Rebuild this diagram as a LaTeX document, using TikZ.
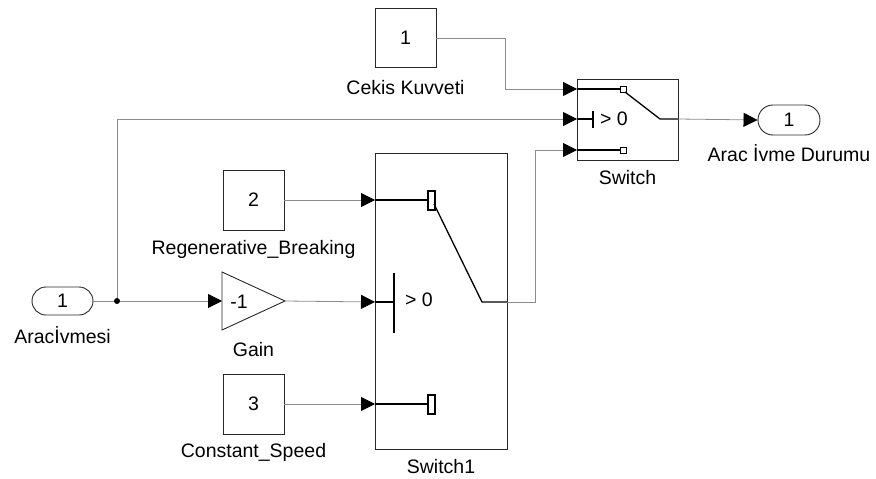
\documentclass[tikz,border=0pt]{standalone}
\usepackage{fontspec}
\setmainfont{Liberation Sans}
\usetikzlibrary{arrows.meta}
\definecolor{wire}{RGB}{140,140,140}
\definecolor{edge}{RGB}{40,40,40}
\tikzset{
  blk/.style={draw=edge, line width=0.9pt, fill=white, inner sep=0pt},
  conn/.style={draw=wire, line width=0.8pt},
  arr/.style={conn, -{Triangle[length=14pt,width=14pt,color=black]}},
  inner/.style={draw=black, line width=1.3pt},
  lbl/.style={inner sep=0pt, font=\fontsize{19.5}{23}\selectfont},
  txt/.style={inner sep=0pt, font=\fontsize{19.5}{23}\selectfont},
}
\begin{document}
\begin{tikzpicture}[x=1pt,y=-1pt]
\useasboundingbox (0,0) rectangle (876,479);
% constant blocks
\node[blk, minimum width=61pt, minimum height=59pt, txt] (c1) at (405.5,38) {1};
\node[lbl] (c1l) at (405.5,88) {Cekis Kuvveti};
\node[blk, minimum width=61pt, minimum height=60pt, txt] (c2) at (253.5,200) {2};
\node[lbl] (c2l) at (253.5,249) {Regenerative\_Breaking};
\node[blk, minimum width=61pt, minimum height=60pt, txt] (c3) at (253.5,404) {3};
\node[lbl] (c3l) at (253.5,452) {Constant\_Speed};
% inport
\node[blk, rounded corners=14pt, minimum width=61pt, minimum height=28pt, txt] (in1) at (62.5,301) {1};
\node[lbl] (in1l) at (62.5,335) {Aracİvmesi};
\coordinate (jn) at (117,301);
% gain
\coordinate (gin) at (222,301);
\coordinate (gout) at (285,301);
\draw[blk] (222,272) -- (285,301) -- (222,330) -- cycle;
\node[txt] (gtxt) at (239,302) {-1};
\node[lbl] (gl) at (253.5,350) {Gain};
% switch1
\node[blk, minimum width=132pt, minimum height=296pt] (sw1) at (441,301) {};
\node[lbl] (sw1l) at (441,467) {Switch1};
\coordinate (s1a) at (375,200);
\coordinate (s1b) at (375,302);
\coordinate (s1c) at (375,404);
\coordinate (s1o) at (507,302);
\draw[inner] (s1a) -- (428,200);
\draw[black, line width=1.1pt, fill=white] (428,191) rectangle (435,210);
\draw[inner] (434,204) -- (482,302) -- (s1o);
\draw[inner] (s1b) -- (394,302);
\draw[inner] (394,273) -- (394,333);
\node[txt, anchor=west] (s1t) at (405,300) {> 0};
\draw[inner] (s1c) -- (428,404);
\draw[black, line width=1.1pt, fill=white] (428,395) rectangle (435,414);
% switch
\node[blk, minimum width=101pt, minimum height=81pt] (sw) at (627.5,119.5) {};
\node[lbl] (swl) at (627.5,178) {Switch};
\coordinate (sa) at (577,89);
\coordinate (sb) at (577,119);
\coordinate (sc) at (577,150);
\coordinate (so) at (678,119);
\draw[inner] (sa) -- (620,89);
\draw[black, line width=1pt, fill=white] (620,86) rectangle (626,92);
\draw[inner] (625,92) -- (660,119) -- (so);
\draw[inner] (sb) -- (593,119);
\draw[inner] (593,111) -- (593,128);
\node[txt, anchor=west] (st) at (600,119) {> 0};
\draw[inner] (sc) -- (620,150);
\draw[black, line width=1pt, fill=white] (620,147) rectangle (626,153);
% outport
\node[blk, rounded corners=15pt, minimum width=62pt, minimum height=30pt, txt] (out1) at (789,120) {1};
\node[lbl] (out1l) at (789,153) {Arac İvme Durumu};
% connections
\draw[arr] (c1.east) -- (505,38) |- (sa);
\draw[conn] (in1.east) -- (jn);
\draw[arr] (jn) -- (gin);
\draw[arr] (jn) |- (sb);
\fill[black] (jn) circle (3pt);
\draw[arr] (c2.east) -- (s1a);
\draw[arr] (gout) -- (s1b);
\draw[arr] (c3.east) -- (s1c);
\draw[arr] (s1o) -- (535,302) |- (sc);
\draw[arr] (so) -- (out1.west);
\end{tikzpicture}
\end{document}
